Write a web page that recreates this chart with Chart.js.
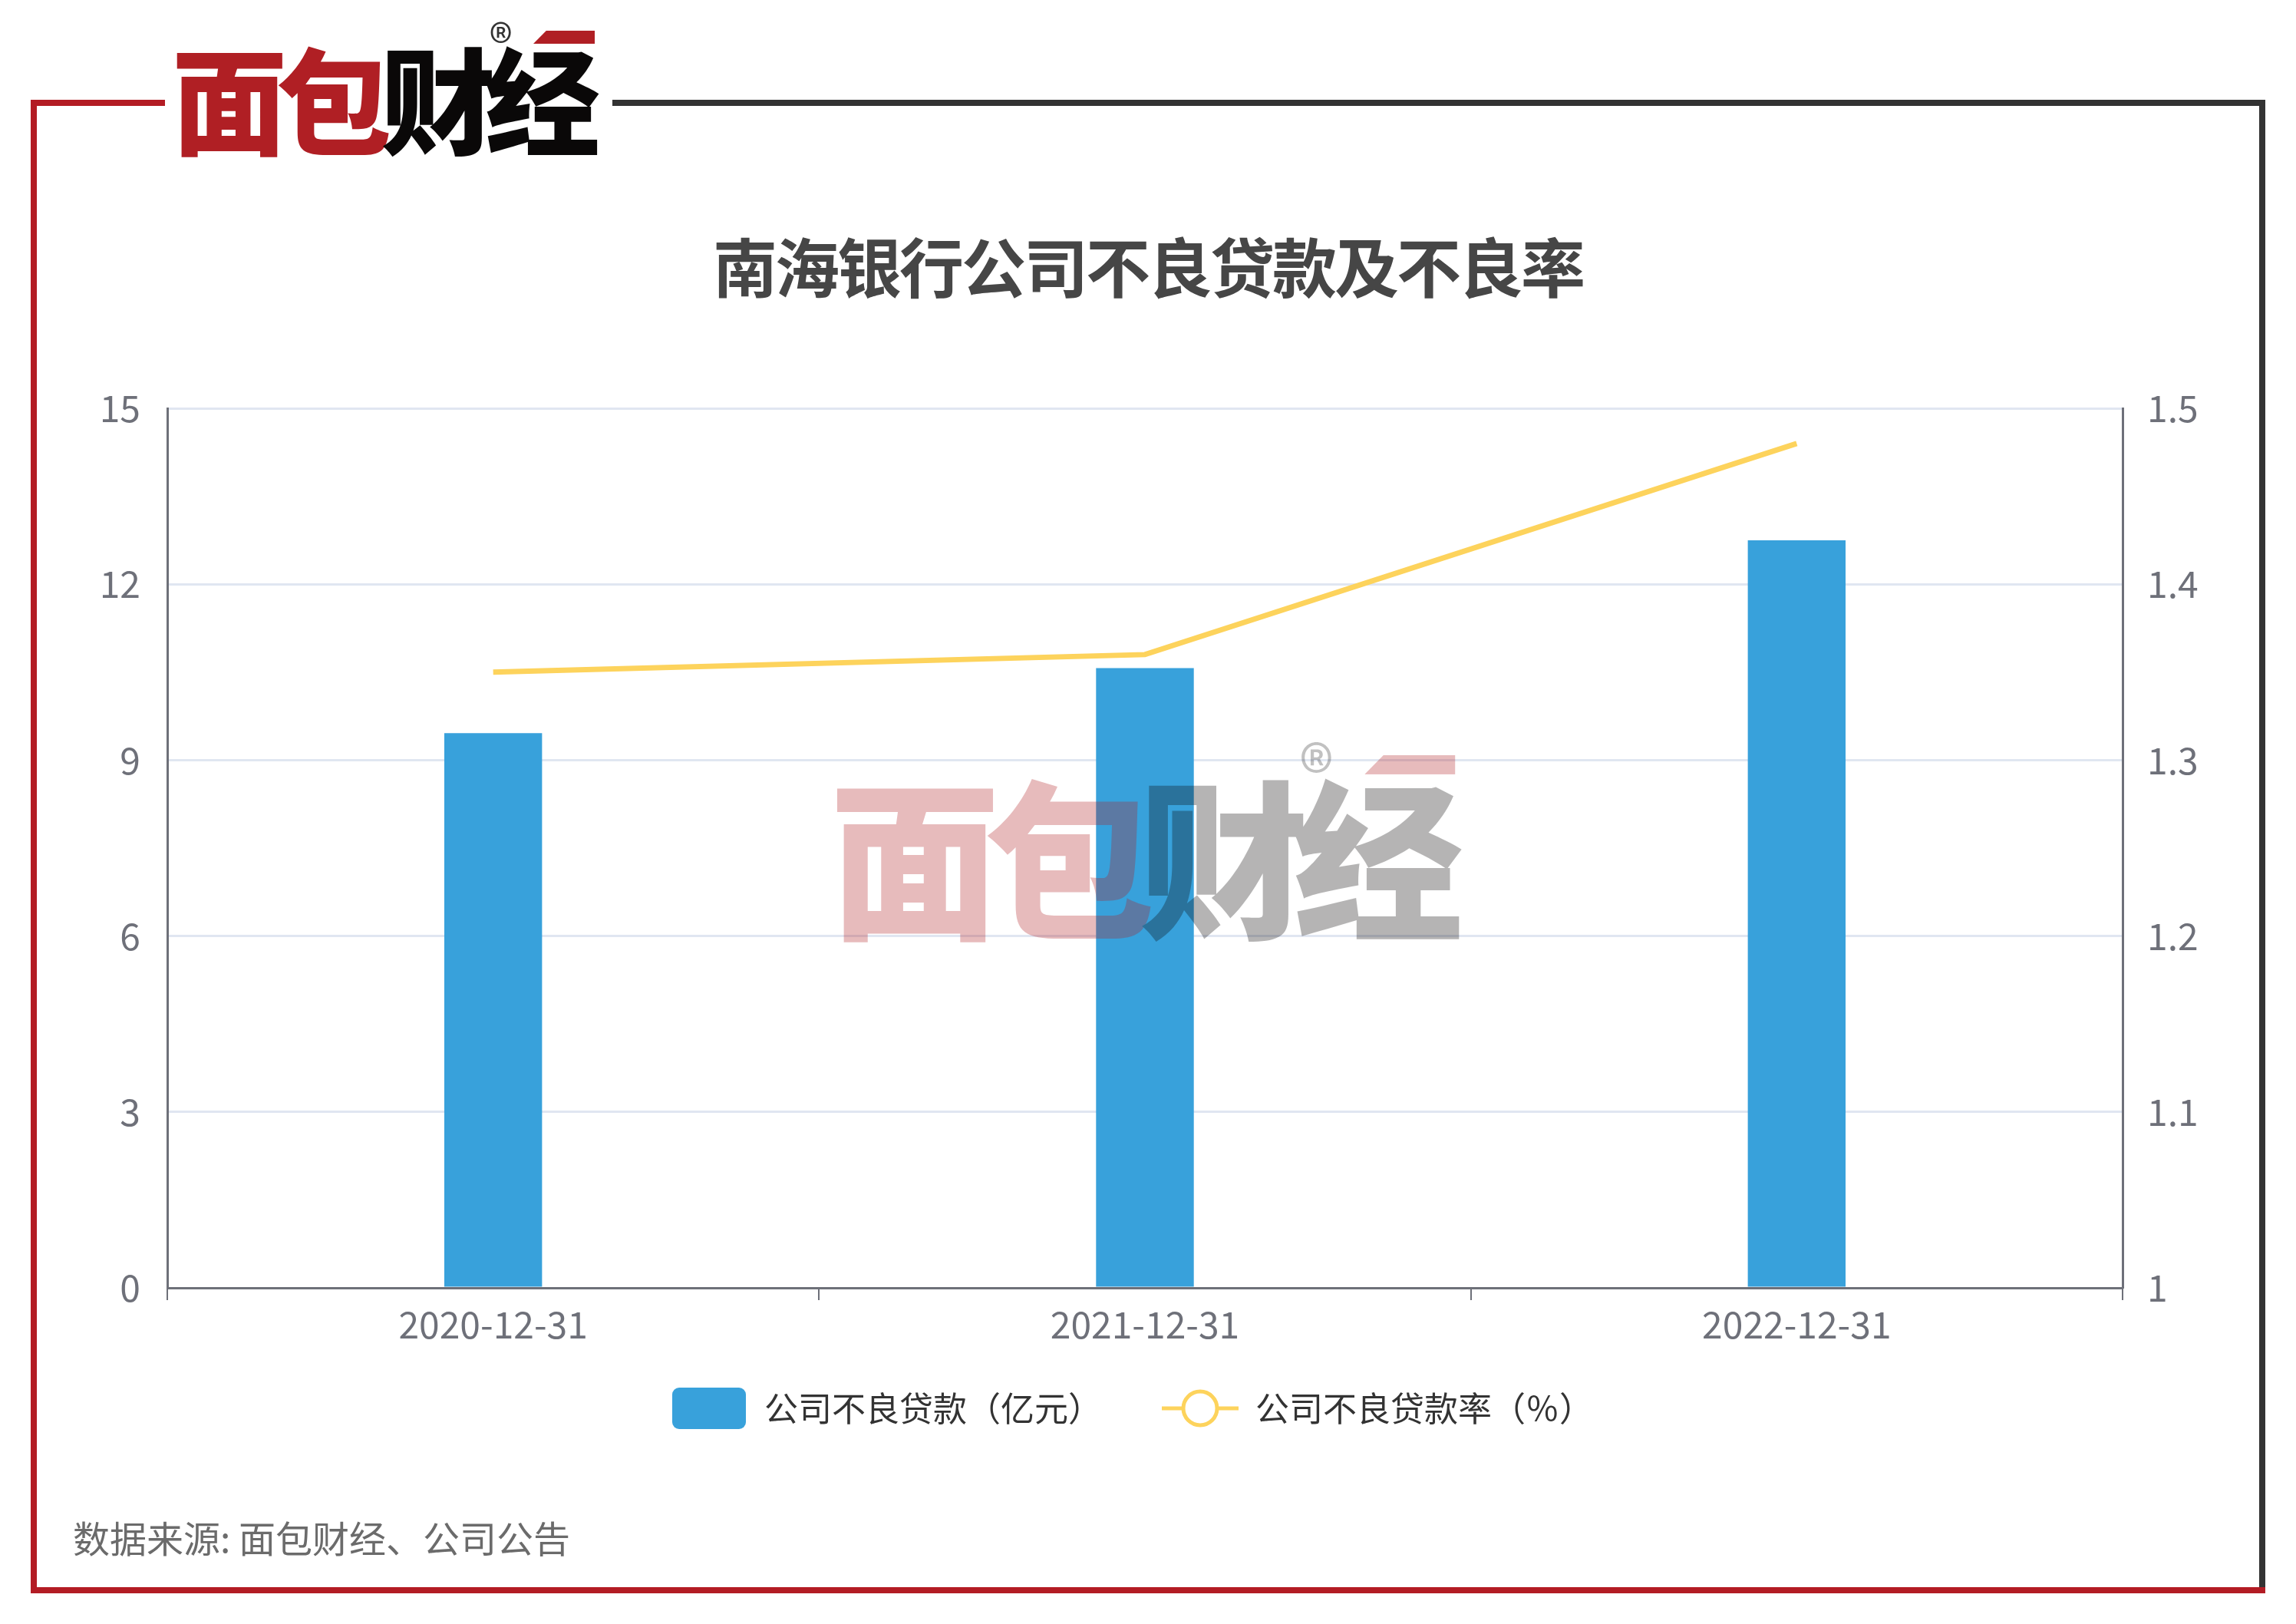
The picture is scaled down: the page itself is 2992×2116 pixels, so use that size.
<!DOCTYPE html>
<html><head><meta charset="utf-8">
<script src="https://cdn.jsdelivr.net/npm/chart.js@4.4.1/dist/chart.umd.min.js"></script>
<style>
html,body{margin:0;padding:0;background:#fff;}
#page{position:relative;width:2992px;height:2116px;overflow:hidden;background:#fff;font-family:"Noto Sans CJK SC","Noto Sans",sans-serif;}
.ln{position:absolute;}
#chart{position:absolute;left:0;top:0;z-index:1;}
.logo{position:absolute;transform-origin:0 0;width:560px;height:190px;z-index:3;}
.logo .t{position:absolute;left:-6px;top:22px;font-size:150px;font-weight:900;line-height:1;letter-spacing:-14px;white-space:nowrap;}
.logo .red{color:#b01f24;}
.logo .blk{color:#0a0808;}
.logo .r{position:absolute;left:408px;top:-8px;font-size:62px;line-height:1;color:#333;}
.logo .bar{position:absolute;left:465px;top:12px;width:80px;height:17px;background:#b01f24;clip-path:polygon(21% 0,100% 0,100% 100%,0 100%);}
#wm{opacity:0.3;pointer-events:none;z-index:5;}
#title{position:absolute;left:0;width:2992px;text-align:center;top:303px;font-size:84px;font-weight:700;line-height:1;letter-spacing:-3px;color:#464646;z-index:2;}
#src{position:absolute;left:95px;top:1978px;font-size:48px;line-height:1;color:#6b6b6b;z-index:2;white-space:nowrap;}
</style>
</head><body>
<div id="page">
  <div class="ln" style="left:40px;top:130px;width:8px;height:1946px;background:#b31c24;"></div>
  <div class="ln" style="left:40px;top:130px;width:175px;height:8px;background:#b31c24;"></div>
  <div class="ln" style="left:798px;top:130px;width:2154px;height:8px;background:#333;"></div>
  <div class="ln" style="left:2944px;top:130px;width:8px;height:1938px;background:#333;"></div>
  <div class="ln" style="left:40px;top:2068px;width:2912px;height:8px;background:#b31c24;"></div>

  <div class="logo" id="logo" style="left:230px;top:28px;">
    <div class="t"><span class="red">面包</span><span class="blk">财经</span></div>
    <div class="r">®</div>
    <div class="bar"></div>
  </div>

  <div id="title">南海银行公司不良贷款及不良率</div>

  <canvas id="chart" width="2992" height="2116"></canvas>

  <div class="logo" id="wm" style="left:1090px;top:966px;transform:scale(1.48);">
    <div class="t"><span class="red">面包</span><span class="blk">财经</span></div>
    <div class="r">®</div>
    <div class="bar"></div>
  </div>

  <div id="src">数据来源: 面包财经、公司公告</div>
</div>
<script>
const categories = ['2020-12-31', '2021-12-31', '2022-12-31'];
const loanValues = [9.46, 10.57, 12.75];
const rateValues = [1.35, 1.36, 1.48];
const leftTicks = [0, 3, 6, 9, 12, 15];
const rightTicks = [1, 1.1, 1.2, 1.3, 1.4, 1.5];
const seriesNames = ['公司不良贷款（亿元）', '公司不良贷款率（％）'];

const barColor = '#38a1db';
const lineColor = '#fdd35c';
const axisColor = '#6e7079';
const gridColor = '#e0e6f1';

Chart.defaults.font.family = '"Noto Sans CJK SC","Noto Sans",sans-serif';

const ICON_W = 158;
function makeBarIcon() {
  const c = document.createElement('canvas');
  c.width = ICON_W; c.height = 54;
  const x = c.getContext('2d');
  x.fillStyle = barColor;
  x.beginPath();
  x.roundRect(ICON_W - 98, 0, 96, 54, 9);
  x.fill();
  return c;
}
function makeLineIcon() {
  const c = document.createElement('canvas');
  c.width = ICON_W; c.height = 54;
  const x = c.getContext('2d');
  const x0 = ICON_W - 100;
  x.strokeStyle = lineColor;
  x.lineWidth = 5;
  x.beginPath(); x.moveTo(x0, 27); x.lineTo(x0 + 100, 27); x.stroke();
  x.beginPath(); x.arc(x0 + 50, 27, 22, 0, Math.PI * 2);
  x.fillStyle = '#fff'; x.fill(); x.stroke();
  return c;
}
const barIcon = makeBarIcon();
const lineIcon = makeLineIcon();

new Chart(document.getElementById('chart'), {
  data: {
    labels: categories,
    datasets: [
      { type: 'bar', label: seriesNames[0], data: loanValues, backgroundColor: barColor,
        yAxisID: 'y', barPercentage: 0.15, categoryPercentage: 1, order: 2 },
      { type: 'line', label: seriesNames[1], data: rateValues, borderColor: lineColor,
        borderWidth: 7, pointRadius: 0, pointHoverRadius: 0, tension: 0, fill: false,
        yAxisID: 'y1', order: 1 }
    ]
  },
  options: {
    responsive: false, animation: false, devicePixelRatio: 1,
    layout: { padding: { top: 532, left: 0, right: 100, bottom: 249 } },
    plugins: {
      tooltip: { enabled: false },
      title: { display: false },
      legend: {
        position: 'bottom', align: 'center',
        labels: {
          usePointStyle: true, pointStyleWidth: ICON_W, boxHeight: 44, padding: 20,
          color: '#333', font: { size: 44 },
          generateLabels: () => [
            { text: seriesNames[0], pointStyle: barIcon, fillStyle: barColor, strokeStyle: barColor, lineWidth: 0, hidden: false, datasetIndex: 0, fontColor: '#333' },
            { text: seriesNames[1], pointStyle: lineIcon, fillStyle: '#fff', strokeStyle: lineColor, lineWidth: 0, hidden: false, datasetIndex: 1, fontColor: '#333' }
          ]
        }
      }
    },
    scales: {
      x: {
        type: 'category', offset: true,
        grid: { offset: true, drawOnChartArea: false, drawTicks: true, tickLength: 16, color: axisColor, lineWidth: 2 },
        border: { display: true, color: axisColor, width: 3 },
        ticks: { color: axisColor, font: { size: 48 }, padding: 3, maxRotation: 0, autoSkip: false },
        afterFit: s => { s.height = 115; }
      },
      y: {
        type: 'linear', position: 'left', min: 0, max: 15,
        afterBuildTicks: s => { s.ticks = leftTicks.map(v => ({ value: v })); },
        grid: { color: c => (c.tick && c.tick.value === 0) ? 'rgba(0,0,0,0)' : gridColor, lineWidth: 3, drawTicks: false },
        border: { color: axisColor, width: 3 },
        ticks: { color: axisColor, font: { size: 48 }, padding: 35, callback: v => String(v) },
        afterFit: s => { s.width = 218; }
      },
      y1: {
        type: 'linear', position: 'right', min: 1, max: 1.5,
        afterBuildTicks: s => { s.ticks = rightTicks.map(v => ({ value: v })); },
        grid: { drawOnChartArea: false, drawTicks: false },
        border: { color: axisColor, width: 3 },
        ticks: { color: axisColor, font: { size: 48 }, padding: 32, callback: v => String(v) },
        afterFit: s => { s.width = 2892 - 2766; }
      }
    }
  }
});
</script>
</body></html>
